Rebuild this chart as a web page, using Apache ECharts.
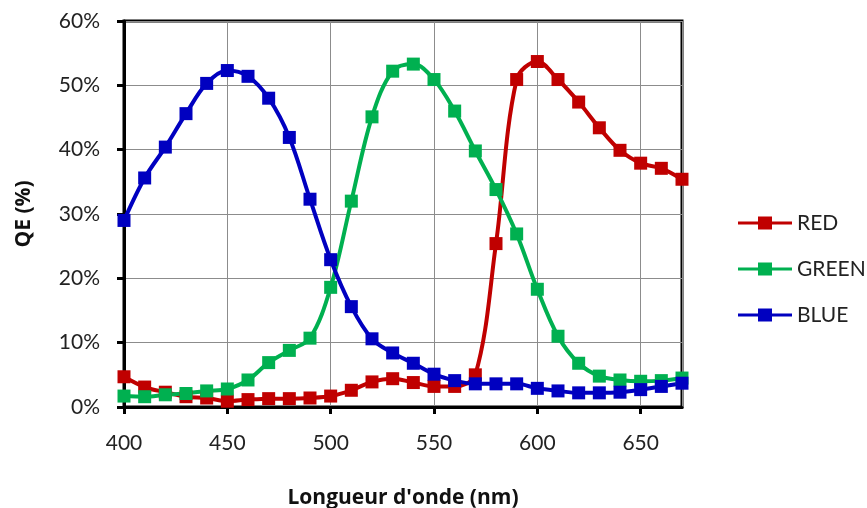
<!DOCTYPE html>
<html><head><meta charset="utf-8">
<script src="https://cdn.jsdelivr.net/npm/echarts@6/dist/echarts.min.js"></script>
<style>html,body{margin:0;padding:0;background:#fff}#c{width:867px;height:508px}</style>
</head><body><div id="c"></div>
<script>
const wavelengths = [400,410,420,430,440,450,460,470,480,490,500,510,520,530,540,550,560,570,580,590,600,610,620,630,640,650,660,670];
const red   = [4.7,3.1,2.3,1.6,1.4,0.9,1.15,1.3,1.3,1.4,1.7,2.6,3.9,4.4,3.8,3.2,3.2,5.0,25.4,50.9,53.7,50.9,47.4,43.4,39.9,37.9,37.1,35.4];
const green = [1.7,1.6,1.9,2.1,2.5,2.8,4.2,6.9,8.8,10.7,18.6,32.0,45.1,52.2,53.3,50.9,46.0,39.8,33.8,26.9,18.3,11.0,6.8,4.8,4.2,4.0,4.1,4.5];
const blue  = [29.0,35.6,40.4,45.6,50.3,52.3,51.4,48.0,41.9,32.3,22.9,15.6,10.6,8.4,6.8,5.1,4.1,3.6,3.6,3.6,2.9,2.5,2.2,2.2,2.3,2.7,3.2,3.7];
const seriesNames = ['RED','GREEN','BLUE'];
const colors = ['#C00000','#00B050','#0000C0'];
const yTicks = [0,10,20,30,40,50,60];

const font = 'Lato, "Open Sans", sans-serif';
const titleFont = '"Open Sans", Lato, sans-serif';
const mk = (name, vals, color) => ({
  name, type:'line', smooth:0.35,
  data: wavelengths.map((w,i)=>[w, vals[i]]),
  symbol:'rect', symbolSize:13,
  lineStyle:{color, width:4},
  itemStyle:{color},
  emphasis:{disabled:true}
});
const chart = echarts.init(document.getElementById('c'), null, {renderer:'canvas'});
chart.setOption({
  animation:false,
  grid:{left:124, right:185, top:21, bottom:101, outerBoundsMode:'none', containLabel:false,
    show:true, borderColor:'#000', borderWidth:3, backgroundColor:'transparent'},
  legend:{
    orient:'vertical', left:733, top:206, itemGap:22, itemWidth:54, itemHeight:13,
    textStyle:{fontFamily:font, fontSize:21, lineHeight:24, color:'#222'},
    data: seriesNames.map(n=>({name:n, icon:'path://M0,5 L20,5 L20,0 L34,0 L34,5 L54,5 L54,8 L34,8 L34,13 L20,13 L20,8 L0,8 Z'}))
  },
  xAxis:{
    type:'value', min:400, max:670, interval:50,
    name:"Longueur d'onde (nm)", nameLocation:'middle', nameGap:81,
    nameTextStyle:{fontFamily:titleFont, fontSize:21, fontWeight:'bold', color:'#111'},
    axisLine:{show:true, lineStyle:{color:'#000', width:3}},
    axisTick:{show:true, inside:false, length:7, lineStyle:{color:'#000', width:3}},
    axisLabel:{fontFamily:font, fontSize:21, color:'#222', margin:26, showMaxLabel:false,
      formatter:v=> (v%50===0 ? String(v) : '')},
    splitLine:{show:true, lineStyle:{color:'#8c8c8c', width:1}}
  },
  yAxis:{
    type:'value', min:0, max:60, interval:10,
    name:'QE (%)', nameLocation:'middle', nameGap:89, nameRotate:90,
    nameTextStyle:{fontFamily:titleFont, fontSize:21, fontWeight:'bold', color:'#111'},
    axisLine:{show:true, lineStyle:{color:'#000', width:3}},
    axisTick:{show:true, inside:false, length:7, lineStyle:{color:'#000', width:3}},
    axisLabel:{fontFamily:font, fontSize:21, color:'#222', margin:24,
      formatter:v=> yTicks.includes(v) ? v+'%' : ''},
    splitLine:{show:true, lineStyle:{color:'#8c8c8c', width:1}}
  },
  series:[mk(seriesNames[0], red, colors[0]), mk(seriesNames[1], green, colors[1]), mk(seriesNames[2], blue, colors[2])]
});
</script></body></html>
